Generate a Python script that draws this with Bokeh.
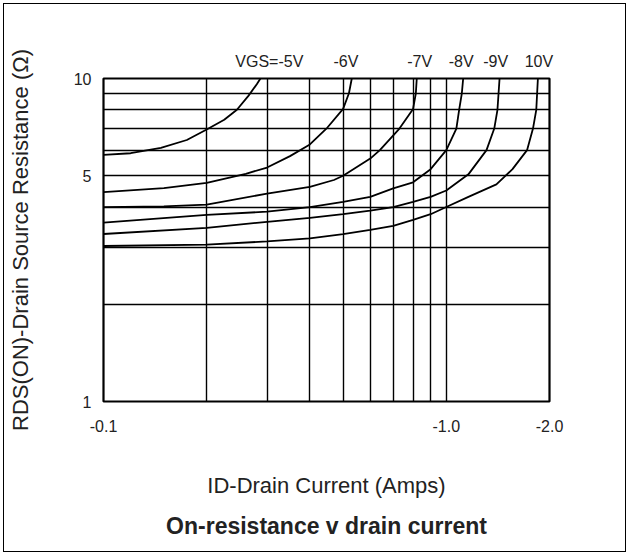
from bokeh.plotting import figure
from bokeh.models import FixedTicker, Title, CustomJSTickFormatter, LogAxis
from bokeh.embed import file_html
from bokeh.resources import INLINE

# ---- data (drain current magnitude in A, on-resistance in ohm) ----
vgs_labels = ["VGS=-5V", "-6V", "-7V", "-8V", "-9V", "10V"]

id_5v = [0.1, 0.12, 0.147, 0.175, 0.2, 0.225, 0.245, 0.265, 0.28, 0.287]
r_5v = [5.8, 5.87, 6.1, 6.45, 6.95, 7.45, 8.0, 8.85, 9.6, 10.0]

id_6v = [0.1, 0.15, 0.2, 0.26, 0.3, 0.35, 0.4, 0.45, 0.5, 0.52, 0.53]
r_6v = [4.45, 4.58, 4.75, 5.07, 5.3, 5.75, 6.25, 7.05, 8.05, 9.0, 10.0]

id_7v = [0.1, 0.15, 0.2, 0.3, 0.4, 0.47, 0.5, 0.6, 0.64, 0.73, 0.8, 0.815, 0.82]
r_7v = [4.0, 4.02, 4.07, 4.4, 4.62, 4.85, 5.0, 5.65, 6.0, 7.0, 8.05, 9.0, 10.0]

id_8v = [0.1, 0.2, 0.3, 0.4, 0.5, 0.6, 0.7, 0.8, 0.9, 1.0, 1.07, 1.09, 1.11, 1.12]
r_8v = [3.58, 3.78, 3.87, 4.0, 4.15, 4.3, 4.57, 4.77, 5.24, 6.0, 7.0, 8.0, 9.0, 10.0]

id_9v = [0.1, 0.2, 0.3, 0.4, 0.5, 0.6, 0.7, 0.8, 0.9, 1.0, 1.16, 1.31, 1.38, 1.41, 1.43]
r_9v = [3.3, 3.45, 3.6, 3.7, 3.8, 3.9, 4.0, 4.15, 4.3, 4.5, 5.05, 6.0, 7.0, 8.0, 10.0]

id_10v = [0.1, 0.2, 0.3, 0.4, 0.5, 0.6, 0.7, 0.8, 0.9, 1.0, 1.16, 1.4, 1.56, 1.72, 1.79, 1.83, 1.85]
r_10v = [3.03, 3.06, 3.13, 3.2, 3.3, 3.4, 3.5, 3.65, 3.8, 4.0, 4.3, 4.7, 5.24, 6.0, 7.0, 8.0, 10.0]

x_label_ticks = [0.1, 1.0, 2.0]
x_grid_ticks = [0.2, 0.3, 0.4, 0.5, 0.6, 0.7, 0.8, 0.9, 1.0]
y_label_ticks = [1, 5, 10]
y_grid_ticks = [2, 3, 4, 5, 6, 7, 8, 9]

series = [(id_5v, r_5v), (id_6v, r_6v), (id_7v, r_7v),
          (id_8v, r_8v), (id_9v, r_9v), (id_10v, r_10v)]

# ---- layout / style ----
label_nudge_px = [9, -6, 3, -2, -4, 1]   # horizontal nudge of curve labels
PX_PER_DECADE = 349.0
FONT = "Liberation Sans"

p = figure(width=621, height=547, x_axis_type="log", y_axis_type="log",
           x_range=(x_label_ticks[0], x_label_ticks[-1]),
           y_range=(y_label_ticks[0], y_label_ticks[-1]),
           output_backend="svg", toolbar_location=None,
           min_border_left=95, min_border_right=76,
           min_border_top=74, min_border_bottom=150)
p.styles = {"margin": "4px", "outline": "1px solid black"}

p.background_fill_color = "white"
p.border_fill_color = "white"
p.outline_line_color = "black"
p.outline_line_width = 2.2

bottom_axis = p.below[0]

# curve labels as an extra axis above the chart, one tick at each curve end
label_x = [s[0][-1] * 10 ** (n / PX_PER_DECADE) for s, n in zip(series, label_nudge_px)]
top_axis = LogAxis(ticker=FixedTicker(ticks=label_x, minor_ticks=[]),
                   formatter=CustomJSTickFormatter(args=dict(labels=vgs_labels),
                                                   code="return labels[index];"))
p.add_layout(top_axis, "above")

# axes
bottom_axis.ticker = FixedTicker(ticks=x_label_ticks, minor_ticks=[])
bottom_axis.formatter = CustomJSTickFormatter(code="return '-' + tick.toFixed(1);")
p.yaxis.ticker = FixedTicker(ticks=y_label_ticks, minor_ticks=[])
p.yaxis.formatter = CustomJSTickFormatter(code="return tick.toFixed(0);")
for ax in [bottom_axis, top_axis] + list(p.yaxis):
    ax.axis_line_color = None
    ax.major_tick_line_color = None
    ax.minor_tick_line_color = None
    ax.major_tick_out = 0
    ax.major_tick_in = 0
    ax.minor_tick_out = 0
    ax.minor_tick_in = 0
    ax.major_label_text_font = FONT
    ax.major_label_text_font_size = "16px"
    ax.major_label_text_color = "#222222"
    ax.axis_label_text_font = FONT
    ax.axis_label_text_font_style = "normal"
    ax.axis_label_text_color = "#222222"

top_axis.major_label_standoff = 9

bottom_axis.major_label_standoff = 18
bottom_axis.axis_label = "ID-Drain Current (Amps)"
bottom_axis.axis_label_text_font_size = "22px"
bottom_axis.axis_label_standoff = 38

p.yaxis.major_label_standoff = 12
p.yaxis.axis_label = "RDS(ON)-Drain Source Resistance (\u03a9)"
p.yaxis.axis_label_text_font_size = "22px"
p.yaxis.axis_label_standoff = 38

# grid
p.xgrid.ticker = FixedTicker(ticks=x_grid_ticks, minor_ticks=[])
p.ygrid.ticker = FixedTicker(ticks=y_grid_ticks, minor_ticks=[])
for g in (p.xgrid, p.ygrid):
    g.grid_line_color = "black"
    g.grid_line_width = 1.4
    g.grid_line_alpha = 1.0

# curves
for xs, ys in series:
    p.line(xs, ys, line_color="black", line_width=1.8)

title = Title(text="On-resistance v drain current", align="center",
              text_font=FONT, text_font_size="23px", text_font_style="bold",
              text_color="#222222", standoff=20)
p.add_layout(title, "below")

open("out.html", "w").write(file_html(p, INLINE))
